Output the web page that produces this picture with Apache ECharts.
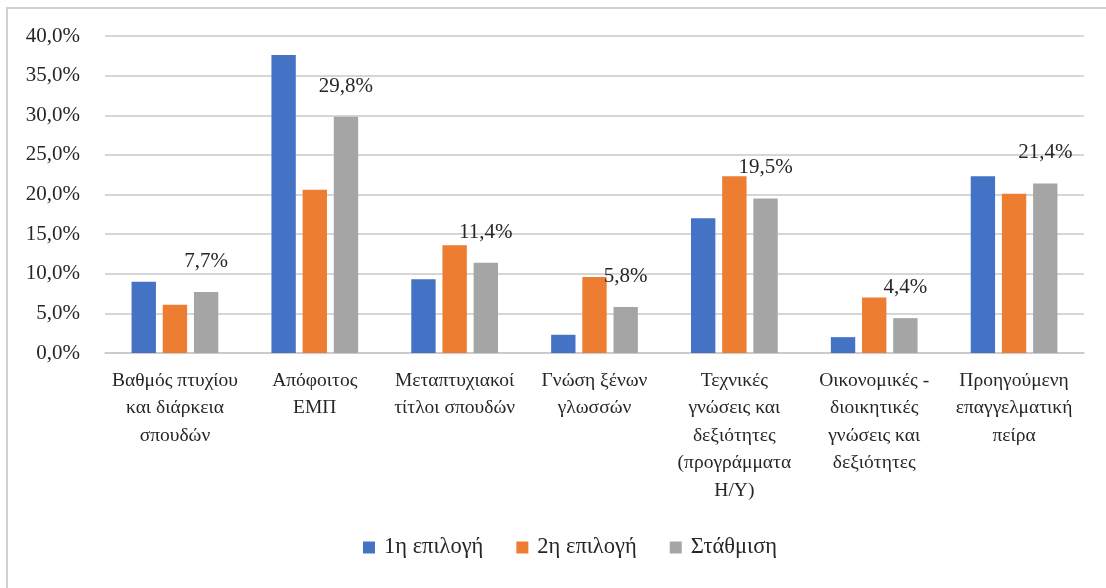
<!DOCTYPE html>
<html>
<head>
<meta charset="utf-8">
<script src="https://cdn.jsdelivr.net/npm/echarts@6/dist/echarts.min.js"></script>
<style>
  html, body { margin: 0; padding: 0; background: #fff; }
  #frame {
    position: absolute; left: 6px; top: 7px; width: 1200px; height: 700px;
    border-top: 2px solid #d0d0d0; border-left: 2px solid #d0d0d0;
  }
  #chart { position: absolute; left: 0; top: 0; width: 1106px; height: 588px; }
</style>
</head>
<body>
<div id="frame"></div>
<div id="chart"></div>
<script>
const categories = [
    "Βαθμός πτυχίου\nκαι διάρκεια\nσπουδών",
    "Απόφοιτος\nΕΜΠ",
    "Μεταπτυχιακοί\nτίτλοι σπουδών",
    "Γνώση ξένων\nγλωσσών",
    "Τεχνικές\nγνώσεις και\nδεξιότητες\n(προγράμματα\nΗ/Υ)",
    "Οικονομικές -\nδιοικητικές\nγνώσεις και\nδεξιότητες",
    "Προηγούμενη\nεπαγγελματική\nπείρα"
];

const seriesNames = ["1η επιλογή", "2η επιλογή", "Στάθμιση"];

const firstChoice  = [9.0, 37.6, 9.3, 2.3, 17.0, 2.0, 22.3];
const secondChoice = [6.1, 20.6, 13.6, 9.6, 22.3, 7.0, 20.1];
const weighted     = [7.7, 29.8, 11.4, 5.8, 19.5, 4.4, 21.4];

const yTicks = [0, 5, 10, 15, 20, 25, 30, 35, 40];

const colors = ["#4472c4", "#ed7d31", "#a5a5a5"];

const FONT = "Liberation Serif";

function pct(v) {
    return v.toFixed(1).replace(".", ",") + "%";
}

const chart = echarts.init(document.getElementById("chart"));

chart.setOption({
    animation: false,
    textStyle: { fontFamily: FONT },
    grid: {
        left: 105,
        right: 22,
        top: 36,
        bottom: 235
    },
    legend: {
        bottom: 24,
        left: 358,
        itemWidth: 12,
        itemHeight: 12,
        itemGap: 33,
        icon: "rect",
        data: seriesNames,
        textStyle: { fontFamily: FONT, fontSize: 22.5, color: "#262626", padding: [0, 0, 0, 4] }
    },
    xAxis: {
        type: "category",
        data: categories,
        axisLine: { lineStyle: { color: "#c8c8c8", width: 1.5 } },
        axisTick: { show: false },
        axisLabel: {
            interval: 0,
            margin: 14,
            fontFamily: FONT,
            fontSize: 19.5,
            lineHeight: 27.5,
            color: "#262626"
        }
    },
    yAxis: {
        type: "value",
        min: yTicks[0],
        max: yTicks[yTicks.length - 1],
        interval: yTicks[1] - yTicks[0],
        axisLine: { show: false },
        axisTick: { show: false },
        splitLine: { lineStyle: { color: "#c8c8c8", width: 1.5 } },
        axisLabel: {
            margin: 25,
            fontFamily: FONT,
            fontSize: 21,
            color: "#262626",
            formatter: pct
        }
    },
    series: [
        {
            name: seriesNames[0],
            type: "bar",
            data: firstChoice,
            itemStyle: { color: colors[0] },
            barGap: "28%",
            barCategoryGap: "38%"
        },
        {
            name: seriesNames[1],
            type: "bar",
            data: secondChoice,
            itemStyle: { color: colors[1] }
        },
        {
            name: seriesNames[2],
            type: "bar",
            data: weighted,
            itemStyle: { color: colors[2] },
            label: {
                show: true,
                position: "top",
                distance: 20,
                fontFamily: FONT,
                fontSize: 21,
                color: "#262626",
                formatter: p => pct(p.value)
            }
        }
    ]
});
</script>
</body>
</html>
